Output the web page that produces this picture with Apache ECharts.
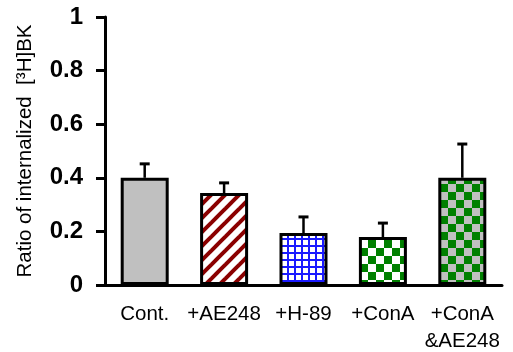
<!DOCTYPE html>
<html>
<head>
<meta charset="utf-8">
<script src="https://cdn.jsdelivr.net/npm/echarts@6/dist/echarts.min.js"></script>
<style>html,body{margin:0;padding:0;background:#fff;}#c{width:513px;height:352px;}</style>
</head>
<body>
<div id="c"></div>
<script>
const categories = ['Cont.', '+AE248', '+H-89', '+ConA', '+ConA\n&AE248'];
const means = [0.40, 0.343, 0.194, 0.179, 0.40];
const errors = [0.052, 0.038, 0.06, 0.052, 0.126];
const yTicks = [0, 0.2, 0.4, 0.6, 0.8, 1];

function makeCanvas(w, h, draw) {
  const c = document.createElement('canvas');
  c.width = w; c.height = h;
  const ctx = c.getContext('2d');
  draw(ctx, w, h);
  return c;
}
const stripes = makeCanvas(14, 14, (ctx, w, h) => {
  ctx.fillStyle = '#fff'; ctx.fillRect(0, 0, w, h);
  ctx.strokeStyle = '#8b0000'; ctx.lineWidth = 4;
  for (let k = -1; k <= 1; k++) {
    ctx.beginPath();
    ctx.moveTo(k * w - 2, h + 2);
    ctx.lineTo(k * w + w + 2, -2);
    ctx.stroke();
  }
});
const grid = makeCanvas(7, 7, (ctx, w, h) => {
  ctx.fillStyle = '#fff'; ctx.fillRect(0, 0, w, h);
  ctx.fillStyle = '#1a1aff';
  ctx.fillRect(0, 0, 2, h);
  ctx.fillRect(0, 0, w, 2);
});
const checkWhite = makeCanvas(16, 16, (ctx, w, h) => {
  ctx.fillStyle = '#fff'; ctx.fillRect(0, 0, w, h);
  ctx.fillStyle = '#008000';
  ctx.fillRect(0, 0, 8, 8); ctx.fillRect(8, 8, 8, 8);
});
const checkGray = makeCanvas(16, 16, (ctx, w, h) => {
  ctx.fillStyle = '#c0c0c0'; ctx.fillRect(0, 0, w, h);
  ctx.fillStyle = '#008000';
  ctx.fillRect(0, 0, 8, 8); ctx.fillRect(8, 8, 8, 8);
});
const fills = [
  '#c0c0c0',
  {image: stripes, repeat: 'repeat'},
  {image: grid, repeat: 'repeat'},
  {image: checkWhite, repeat: 'repeat'},
  {image: checkGray, repeat: 'repeat'}
];

const chart = echarts.init(document.getElementById('c'), null, {renderer: 'canvas'});
const font = "'Liberation Sans', Arial, sans-serif";
chart.setOption({
  animation: false,
  grid: {left: 105, right: 11, top: 17, bottom: 67, containLabel: false, outerBoundsMode: 'none'},
  xAxis: {
    type: 'category',
    data: categories,
    axisLine: {lineStyle: {color: '#000', width: 3}},
    axisTick: {show: false},
    axisLabel: {color: '#000', fontSize: 20.5, fontFamily: font, margin: 16, lineHeight: 27, interval: 0}
  },
  yAxis: {
    type: 'value',
    min: 0, max: 1, interval: 0.2,
    name: 'Ratio of internalized  [³H]BK',
    nameLocation: 'middle',
    nameGap: 69,
    nameTextStyle: {color: '#000', fontSize: 20.5, fontFamily: font},
    axisLine: {show: true, lineStyle: {color: '#000', width: 3}},
    axisTick: {show: true, length: 9, lineStyle: {color: '#000', width: 3}},
    splitLine: {show: false},
    axisLabel: {
      color: '#000', fontSize: 24, fontWeight: 'bold', fontFamily: font, margin: 22,
      formatter: v => {
        const t = yTicks.find(x => Math.abs(x - v) < 1e-9);
        return t === undefined ? '' : String(t);
      }
    }
  },
  series: [
    {
      type: 'bar',
      barWidth: 48,
      data: means.map((v, i) => ({
        value: v,
        itemStyle: {color: fills[i], borderColor: '#000', borderWidth: 3}
      })),
      z: 2
    },
    {
      type: 'custom',
      z: 1,
      data: means.map((v, i) => [i, v, v + errors[i]]),
      renderItem: (params, api) => {
        const p0 = api.coord([api.value(0), api.value(1)]);
        const p1 = api.coord([api.value(0), api.value(2)]);
        return {
          type: 'group',
          children: [
            {type: 'line', shape: {x1: p0[0], y1: p0[1], x2: p1[0], y2: p1[1]}, style: {stroke: '#000', lineWidth: 2.5}},
            {type: 'line', shape: {x1: p1[0] - 5, y1: p1[1], x2: p1[0] + 5, y2: p1[1]}, style: {stroke: '#000', lineWidth: 3}}
          ]
        };
      }
    }
  ]
});
</script>
</body>
</html>
